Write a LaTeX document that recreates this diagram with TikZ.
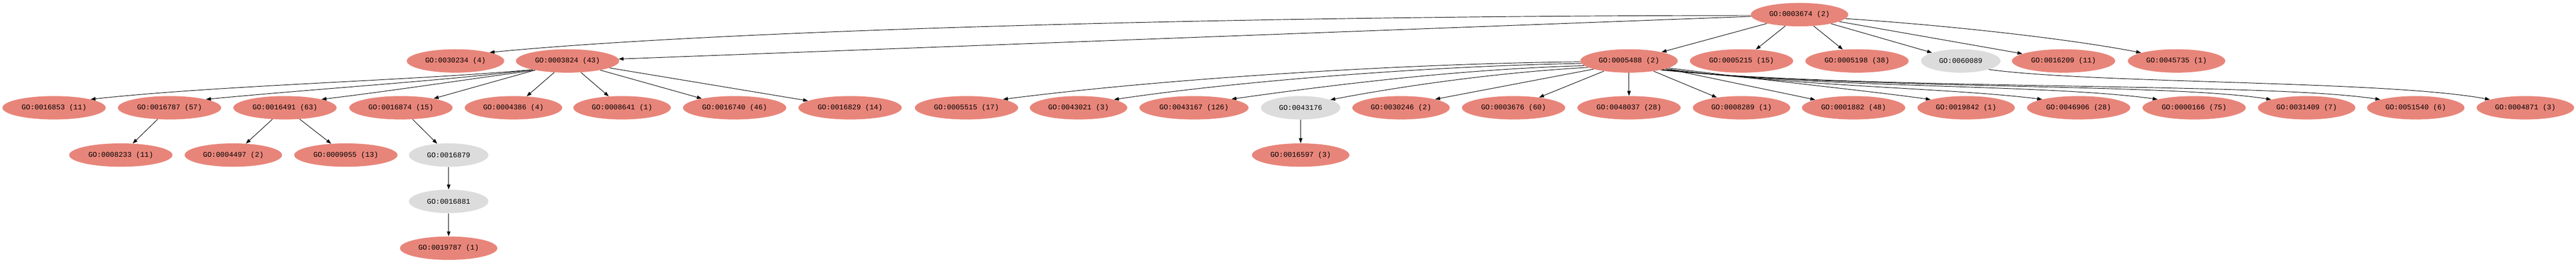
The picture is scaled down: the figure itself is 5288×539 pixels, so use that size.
\documentclass[tikz,border=0pt]{standalone}
\usepackage{fontspec}
\setmonofont{Liberation Mono}
\usetikzlibrary{shapes.geometric,arrows.meta}
\definecolor{gosalmon}{RGB}{232,133,122}
\definecolor{gogray}{RGB}{220,220,220}
\begin{document}
\begin{tikzpicture}[x=0.5pt,y=0.5pt,
  gonode/.style={ellipse, inner sep=0pt, minimum height=24pt, font=\ttfamily\fontsize{7.4}{8}\selectfont, text=black},
  hit/.style={gonode, fill=gosalmon},
  nohit/.style={gonode, fill=gogray},
  wa/.style={minimum width=81.5pt},
  wb/.style={minimum width=100pt},
  wc/.style={minimum width=106pt},
  wd/.style={minimum width=112pt},
  goedge/.style={draw=black, line width=0.5pt, -{Triangle[length=5pt,width=3.6pt]}}
]
\path[use as bounding box] (0,0) rectangle (5288,-539);
% row 1
\node[hit,wb] (n3674) at (3694,-30) {GO:0003674 (2)};
% row 2
\node[hit,wb] (n30234) at (935,-125) {GO:0030234 (4)};
\node[hit,wc] (n3824) at (1165,-125) {GO:0003824 (43)};
\node[hit,wb] (n5488) at (3344,-125) {GO:0005488 (2)};
\node[hit,wc] (n5215) at (3575,-125) {GO:0005215 (15)};
\node[hit,wc] (n5198) at (3812,-125) {GO:0005198 (38)};
\node[nohit,wa] (n60089) at (4025,-125) {GO:0060089};
\node[hit,wc] (n16209) at (4236,-125) {GO:0016209 (11)};
\node[hit,wb] (n45735) at (4468,-125) {GO:0045735 (1)};
% row 3
\node[hit,wc] (n16853) at (111,-221) {GO:0016853 (11)};
\node[hit,wc] (n16787) at (348,-221) {GO:0016787 (57)};
\node[hit,wc] (n16491) at (585,-221) {GO:0016491 (63)};
\node[hit,wc] (n16874) at (823,-221) {GO:0016874 (15)};
\node[hit,wb] (n4386) at (1054,-221) {GO:0004386 (4)};
\node[hit,wb] (n8641) at (1277,-221) {GO:0008641 (1)};
\node[hit,wc] (n16740) at (1508,-221) {GO:0016740 (46)};
\node[hit,wc] (n16829) at (1745,-221) {GO:0016829 (14)};
\node[hit,wc] (n5515) at (1984,-221) {GO:0005515 (17)};
\node[hit,wb] (n43021) at (2214,-221) {GO:0043021 (3)};
\node[hit,wd] (n43167) at (2451,-221) {GO:0043167 (126)};
\node[nohit,wa] (n43176) at (2670,-221) {GO:0043176};
\node[hit,wb] (n30246) at (2876,-221) {GO:0030246 (2)};
\node[hit,wc] (n3676) at (3107,-221) {GO:0003676 (60)};
\node[hit,wc] (n48037) at (3344,-221) {GO:0048037 (28)};
\node[hit,wb] (n8289) at (3575,-221) {GO:0008289 (1)};
\node[hit,wc] (n1882) at (3805,-221) {GO:0001882 (48)};
\node[hit,wb] (n19842) at (4036,-221) {GO:0019842 (1)};
\node[hit,wc] (n46906) at (4267,-221) {GO:0046906 (28)};
\node[hit,wc] (n166) at (4504,-221) {GO:0000166 (75)};
\node[hit,wb] (n31409) at (4735,-221) {GO:0031409 (7)};
\node[hit,wb] (n51540) at (4959,-221) {GO:0051540 (6)};
\node[hit,wb] (n4871) at (5184,-221) {GO:0004871 (3)};
% row 4
\node[hit,wc] (n8233) at (248,-318) {GO:0008233 (11)};
\node[hit,wb] (n4497) at (479,-318) {GO:0004497 (2)};
\node[hit,wc] (n9055) at (710,-318) {GO:0009055 (13)};
\node[nohit,wa] (n16879) at (921,-318) {GO:0016879};
\node[hit,wb] (n16597) at (2670,-318) {GO:0016597 (3)};
% row 5
\node[nohit,wa] (n16881) at (921,-413) {GO:0016881};
% row 6
\node[hit,wb] (n19787) at (921,-509) {GO:0019787 (1)};

% edges from root
\draw[goedge] (n3674.181) .. controls (2600,-32) and (1500,-60) .. (n30234.14);
\draw[goedge] (n3674) -- (n3824);
\draw[goedge] (n3674) -- (n5488);
\draw[goedge] (n3674) -- (n5215);
\draw[goedge] (n3674) -- (n5198);
\draw[goedge] (n3674) -- (n60089);
\draw[goedge] (n3674) -- (n16209);
\draw[goedge] (n3674.-5) .. controls (4000,-52) and (4250,-80) .. (n45735.167);
% edges from GO:0003824
\draw[goedge] (n3824.194) .. controls (850,-165) and (450,-175) .. (n16853.13);
\draw[goedge] (n3824.194) .. controls (920,-165) and (650,-182) .. (n16787.13);
\draw[goedge] (n3824.196) .. controls (1000,-157) and (800,-187) .. (n16491.13);
\draw[goedge] (n3824) -- (n16874);
\draw[goedge] (n3824) -- (n4386);
\draw[goedge] (n3824) -- (n8641);
\draw[goedge] (n3824) -- (n16740);
\draw[goedge] (n3824) -- (n16829);
% edges from GO:0005488
\draw[goedge] (n5488.181) .. controls (2900,-130) and (2400,-160) .. (n5515.13);
\draw[goedge] (n5488.183) .. controls (2950,-135) and (2550,-165) .. (n43021.13);
\draw[goedge] (n5488.186) .. controls (3000,-142) and (2750,-172) .. (n43167.13);
\draw[goedge] (n5488.189) .. controls (3050,-150) and (2850,-182) .. (n43176.15);
\draw[goedge] (n5488.193) -- (n30246.14);
\draw[goedge] (n5488) -- (n3676);
\draw[goedge] (n5488) -- (n48037);
\draw[goedge] (n5488) -- (n8289);
\draw[goedge] (n5488) -- (n1882);
\draw[goedge] (n5488.-10) .. controls (3650,-168) and (3850,-188) .. (n19842.167);
\draw[goedge] (n5488.-12) .. controls (3700,-178) and (4000,-180) .. (n46906.167);
\draw[goedge] (n5488.-14) .. controls (3750,-182) and (4200,-172) .. (n166.167);
\draw[goedge] (n5488.-15) .. controls (3800,-184) and (4450,-170) .. (n31409.167);
\draw[goedge] (n5488.-16) .. controls (3850,-186) and (4650,-168) .. (n51540.167);
\draw[goedge] (n60089.-17) .. controls (4300,-172) and (4900,-165) .. (n4871.167);
% lower edges
\draw[goedge] (n16787) -- (n8233);
\draw[goedge] (n16491) -- (n4497);
\draw[goedge] (n16491) -- (n9055);
\draw[goedge] (n16874) -- (n16879);
\draw[goedge] (n16879) -- (n16881);
\draw[goedge] (n16881) -- (n19787);
\draw[goedge] (n43176) -- (n16597);
\end{tikzpicture}
\end{document}
